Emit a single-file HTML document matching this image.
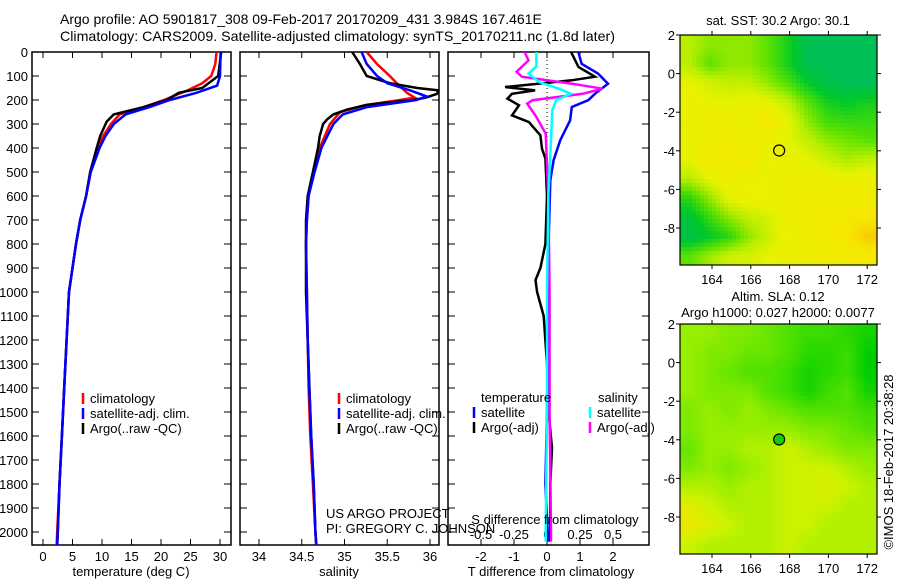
<!DOCTYPE html>
<html><head><meta charset="utf-8"><style>
html,body{margin:0;padding:0;background:#fff;}
svg{display:block;font-family:"Liberation Sans",sans-serif;}
text{font-size:13px;fill:#000;}
</style></head><body>
<svg id="chart" width="900" height="580" viewBox="0 0 900 580">
<text x="60" y="24" style="font-size:14px">Argo profile: AO 5901817_308 09-Feb-2017 20170209_431 3.984S 167.461E</text>
<text x="60" y="41" style="font-size:14px" textLength="555" lengthAdjust="spacingAndGlyphs">Climatology: CARS2009. Satellite-adjusted climatology: synTS_20170211.nc (1.8d later)</text>
<g id="g"></g>
</svg>
<script>
// ---- data ----
const tDepth=[0,100,150,170,200,230,260,290,350,400,500,600,700,800,900,1000,1200,1400,1600,1800,2000,2055];
const tArgo=[30.2,29.7,27,23,21,17,12,10.8,9.7,9.1,8,7.3,6.3,5.6,5.0,4.4,4.0,3.6,3.2,2.8,2.5,2.4];
const tClimDepth=[0,50,100,130,160,200,230,260,300,350,400,500,600,700,800,900,1000,1200,1400,1600,1800,2000,2055];
const tClim=[29.4,29.2,28.5,27,24.5,20.5,17,13,11.5,10.2,9.3,8,7.3,6.3,5.6,5.0,4.4,4.0,3.6,3.2,2.8,2.4,2.3];
const tSat=[30.1,30.05,30,29.5,26,21.5,18,14,12,10.6,9.6,8.1,7.3,6.3,5.6,5.0,4.4,4.0,3.6,3.2,2.8,2.5,2.4];
const tSatDepth=[0,50,100,140,170,200,230,260,300,350,400,500,600,700,800,900,1000,1200,1400,1600,1800,2000,2055];
const sDepth=[0,50,100,130,150,160,175,190,200,220,240,260,280,300,350,400,500,600,700,800,1000,1200,1400,1600,1800,2000,2055];
const sArgo=[35.09,35.18,35.26,35.53,35.85,36.1,36.08,35.95,35.8,35.26,35.03,34.87,34.8,34.75,34.71,34.69,34.63,34.57,34.55,34.55,34.55,34.57,34.59,34.61,34.64,34.66,34.67];
const sClimDepth=[0,50,100,130,170,190,200,220,250,300,400,500,600,700,800,1000,1200,1400,1600,1800,2000,2055];
const sClim=[35.26,35.38,35.53,35.61,35.73,35.82,35.65,35.26,34.95,34.83,34.71,34.64,34.58,34.56,34.55,34.56,34.57,34.58,34.6,34.63,34.66,34.67];
const sSatDepth=[0,50,100,130,160,185,200,230,260,300,400,500,600,700,800,1000,1200,1400,1600,1800,2000,2055];
const sSat=[35.2,35.26,35.38,35.5,35.77,35.96,35.84,35.26,34.98,34.87,34.73,34.65,34.58,34.56,34.55,34.56,34.57,34.59,34.61,34.64,34.66,34.67];
const dTDepth=[0,62,103,118,132,146,160,174,194,222,264,292,347,403,444,600,800,900,950,1000,1050,1100,1300,1500,1650,1800,2000,2040];
const dTArgo=[0.73,0.95,1.45,0.75,-0.27,-1.27,-0.36,-1.06,-1.2,-0.85,-1.06,-0.55,-0.2,-0.15,-0.05,0,-0.05,-0.2,-0.35,-0.3,-0.2,-0.1,0,0.05,0.15,0.1,0.1,0.05];
const dTSDepth=[0,49,90,132,174,201,229,285,368,451,535,800,1200,1500,1800,2000,2040];
const dTSat=[0.95,1.05,1.55,1.85,1.45,1.25,0.75,0.7,0.4,0.2,0.1,0.05,0.03,0.0,-0.05,0.02,0.02];
const dSDepth=[0,35,83,103,132,153,174,201,215,271,340,600,1000,1500,2000,2040];
const dSArgo=[-0.17,-0.14,-0.23,-0.19,0.19,0.42,0.27,-0.11,-0.15,-0.08,-0.01,0.01,0.02,0.02,0.03,0.03];
const dSSDepth=[0,60,90,125,153,174,201,243,368,600,1000,1500,2000,2040];
const dSSat=[-0.08,-0.08,-0.14,-0.06,0.09,0.18,0.07,0.04,0.03,0.01,0,0,-0.01,-0.01];
const sstField=[
[.55,.52,.52,.52,.48,.42,.35,.35,.35,.35],
[.55,.48,.52,.52,.48,.42,.35,.35,.35,.35],
[.6,.58,.56,.56,.52,.47,.4,.36,.35,.35],
[.62,.6,.6,.62,.6,.56,.48,.42,.4,.42],
[.62,.63,.63,.62,.66,.6,.52,.46,.45,.45],
[.6,.63,.65,.63,.62,.6,.56,.52,.5,.48],
[.6,.65,.65,.65,.6,.62,.6,.57,.54,.56],
[.55,.6,.63,.62,.62,.63,.63,.62,.62,.62],
[.44,.52,.6,.62,.62,.63,.63,.64,.64,.64],
[.38,.45,.52,.56,.58,.62,.64,.65,.66,.66],
[.36,.4,.44,.52,.57,.62,.63,.65,.66,.7],
[.48,.53,.57,.58,.6,.62,.63,.64,.65,.65]];
const slaField=[
[.5,.5,.45,.45,.4,.35,.3,.3,.25,.2],
[.5,.45,.45,.4,.4,.35,.25,.25,.3,.15],
[.5,.45,.4,.35,.35,.3,.2,.25,.3,.15],
[.5,.45,.45,.45,.35,.3,.2,.3,.35,.2],
[.45,.5,.45,.5,.45,.4,.35,.35,.35,.3],
[.45,.5,.5,.5,.5,.5,.45,.45,.4,.35],
[.4,.5,.5,.55,.55,.6,.55,.5,.45,.45],
[.45,.5,.45,.5,.55,.6,.6,.6,.55,.5],
[.55,.55,.5,.55,.55,.6,.6,.65,.6,.55],
[.65,.6,.55,.55,.55,.6,.6,.6,.55,.55],
[.7,.65,.6,.55,.55,.6,.6,.55,.55,.55],
[.6,.55,.55,.55,.55,.6,.55,.55,.55,.55]];
const depthTicks=[0,100,200,300,400,500,600,700,800,900,1000,1100,1200,1300,1400,1500,1600,1700,1800,1900,2000];
const tTicks=[0,5,10,15,20,25,30];
const sTicks=[34,34.5,35,35.5,36];
const dTTicks=[-2,-1,0,1,2];
const dSTicks=[-0.5,-0.25,0,0.25,0.5];
const latTicks=[2,0,-2,-4,-6,-8];
const lonTicks=[164,166,168,170,172];
const argoLon=167.461, argoLat=-3.984;

// ---- helpers ----
const NS='http://www.w3.org/2000/svg';
const G=document.getElementById('g');
function el(tag,attrs,parent){const e=document.createElementNS(NS,tag);for(const k in attrs)e.setAttribute(k,attrs[k]);(parent||G).appendChild(e);return e;}
function txt(x,y,s,anchor,parent,size){const t=el('text',{x:x,y:y,'text-anchor':anchor||'start'},parent);if(size)t.style.fontSize=size+'px';t.textContent=s;return t;}
const yD=d=>52+d*0.24;
const PB=545;
const xT=v=>43+v*5.9;
const xS=v=>259+(v-34)*85.5;
const xDT=v=>547+v*33;
const xDS=v=>547+v*132;

function panel(x0,x1,name){
  const g=el('g',{});
  
  
  el('rect',{x:x0,y:52,width:x1-x0,height:PB-52,fill:'none',stroke:'#000','stroke-width':1.5},g);
  depthTicks.forEach(d=>{el('line',{x1:x0,x2:x0+7,y1:yD(d),y2:yD(d),stroke:'#000'},g);el('line',{x1:x1-7,x2:x1,y1:yD(d),y2:yD(d),stroke:'#000'},g);});
  return g;
}
function line(xs,ds,fx,color,name,w){
  const p=xs.map((v,i)=>fx(v).toFixed(1)+','+yD(ds[i]).toFixed(1)).join(' ');
  const e=el('polyline',{points:p,fill:'none',stroke:color,'stroke-width':w||2.5});
  
  
  return e;
}
function legend(x,y,items,g){
  items.forEach((it,i)=>{
    el('line',{x1:x,x2:x,y1:y+i*15-10,y2:y+i*15+1,stroke:it[1],'stroke-width':2.5},g);
    const t=txt(x+7,y+i*15,it[0],'start',g);
    
    
  });
}

depthTicks.forEach(d=>{const t=txt(28,yD(d)+5,String(d),'end');});

const clipDefs=el('defs',{});
[[1,32,231],[2,240,439],[3,448,649]].forEach(c=>{const cp=el('clipPath',{id:'c'+c[0]},clipDefs);el('rect',{x:c[1],y:52,width:c[2]-c[1],height:PB-52},cp);});

// panel 1
const p1=panel(32,231,'temperature-panel');
tTicks.forEach(v=>{el('line',{x1:xT(v),x2:xT(v),y1:52,y2:58,stroke:'#000'},p1);el('line',{x1:xT(v),x2:xT(v),y1:PB-6,y2:PB,stroke:'#000'},p1);txt(xT(v),561,String(v),'middle',p1);});
const l1=el('g',{'clip-path':'url(#c1)'},p1);
l1.appendChild(line(tClim,tClimDepth,xT,'#f00','temp-climatology-line'));
l1.appendChild(line(tArgo,tDepth,xT,'#000','temp-argo-line'));
l1.appendChild(line(tSat,tSatDepth,xT,'#00f','temp-satellite-line'));
txt(131,576,'temperature (deg C)','middle',p1);
legend(83,403,[['climatology','#f00'],['satellite-adj. clim.','#00f'],['Argo(..raw -QC)','#000']],p1);

// panel 2
const p2=panel(240,439,'salinity-panel');
sTicks.forEach(v=>{el('line',{x1:xS(v),x2:xS(v),y1:52,y2:58,stroke:'#000'},p2);el('line',{x1:xS(v),x2:xS(v),y1:PB-6,y2:PB,stroke:'#000'},p2);txt(xS(v),561,String(v),'middle',p2);});
const l2=el('g',{'clip-path':'url(#c2)'},p2);
l2.appendChild(line(sClim,sClimDepth,xS,'#f00','sal-climatology-line'));
l2.appendChild(line(sArgo,sDepth,xS,'#000','sal-argo-line'));
l2.appendChild(line(sSat,sSatDepth,xS,'#00f','sal-satellite-line'));
txt(339,576,'salinity','middle',p2);
legend(339,403,[['climatology','#f00'],['satellite-adj. clim.','#00f'],['Argo(..raw -QC)','#000']],p2);

// panel 3
const p3=panel(448,649,'difference-panel');
dTTicks.forEach(v=>{el('line',{x1:xDT(v),x2:xDT(v),y1:52,y2:58,stroke:'#000'},p3);el('line',{x1:xDT(v),x2:xDT(v),y1:PB-6,y2:PB,stroke:'#000'},p3);txt(xDT(v),561,String(v),'middle',p3);});
dSTicks.forEach(v=>{txt(xDS(v),539,String(v),'middle',p3);});
el('line',{x1:547,x2:547,y1:52,y2:PB,stroke:'#000','stroke-dasharray':'1,3'},p3);
const l3=el('g',{'clip-path':'url(#c3)'},p3);
l3.appendChild(line(dTArgo,dTDepth,xDT,'#000','dT-argo-line'));
l3.appendChild(line(dTSat,dTSDepth,xDT,'#00f','dT-satellite-line'));
l3.appendChild(line(dSArgo,dSDepth,xDS,'#f0f','dS-argo-line'));
l3.appendChild(line(dSSat,dSSDepth,xDS,'#0ff','dS-satellite-line'));
txt(555,524,'S difference from climatology','middle',p3);
txt(551,576,'T difference from climatology','middle',p3);
txt(481,402,'temperature','start',p3);
txt(598,402,'salinity','start',p3);
legend(474,417,[['satellite','#00f'],['Argo(-adj)','#000']],p3);
legend(590,417,[['satellite','#0ff'],['Argo(-adj)','#f0f']],p3);
txt(326,518,'US ARGO PROJECT','start');
txt(326,533,'PI: GREGORY C. JOHNSON','start');

// ---- maps ----
function lerpColor(stops,v){
  for(let i=0;i<stops.length-1;i++){const a=stops[i],b=stops[i+1];if(v<=b[0]||i==stops.length-2){const t=Math.max(0,Math.min(1,(v-a[0])/(b[0]-a[0])));return 'rgb('+[1,2,3].map(k=>Math.round(a[k]+(b[k]-a[k])*t)).join(',')+')';}}
}
const cmapSST=[[0.25,0,60,220],[0.32,0,185,110],[0.4,0,200,40],[0.48,90,225,0],[0.55,185,238,0],[0.6,230,242,0],[0.66,245,232,0],[0.75,255,170,0],[0.9,200,0,0]];
const cmapSLA=[[0.15,0,205,0],[0.35,80,225,0],[0.5,150,238,0],[0.6,205,242,0],[0.7,235,232,0]];
function map(y0,field,cmap,name){
  const g=el('g',{});
  
  
  const x0=680,x1=877,y1=y0+230;
  const lonX=l=>712+(l-164)*19.4, latY=l=>y0+(2-l)*19.3;
  const rows=field.length, cols=field[0].length;
  const cell=4;
  for(let py=y0;py<y1;py+=cell){
    for(let px=x0;px<x1;px+=cell){
      const fx=(px+cell/2-x0)/(x1-x0)*cols-0.5, fy=(py+cell/2-y0)/(y1-y0)*rows-0.5;
      const i0=Math.max(0,Math.min(rows-1,Math.floor(fy))),i1=Math.min(rows-1,i0+1),j0=Math.max(0,Math.min(cols-1,Math.floor(fx))),j1=Math.min(cols-1,j0+1);
      const ty=Math.max(0,Math.min(1,fy-i0)),tx=Math.max(0,Math.min(1,fx-j0));
      const v=(field[i0][j0]*(1-tx)+field[i0][j1]*tx)*(1-ty)+(field[i1][j0]*(1-tx)+field[i1][j1]*tx)*ty;
      el('rect',{x:px,y:py,width:Math.min(cell,x1-px),height:Math.min(cell,y1-py),fill:lerpColor(cmap,v)},g);
    }
  }
  el('rect',{x:x0,y:y0,width:x1-x0,height:y1-y0,fill:'none',stroke:'#000','stroke-width':1.2},g);
  latTicks.forEach(l=>{el('line',{x1:x0-4,x2:x0,y1:latY(l),y2:latY(l),stroke:'#000'},g);el('line',{x1:x1,x2:x1+4,y1:latY(l),y2:latY(l),stroke:'#000'},g);txt(x0-5,latY(l)+5,String(l),'end',g,13);});
  lonTicks.forEach(l=>{el('line',{x1:lonX(l),x2:lonX(l),y1:y0-4,y2:y0,stroke:'#000'},g);el('line',{x1:lonX(l),x2:lonX(l),y1:y1,y2:y1+4,stroke:'#000'},g);txt(lonX(l),y1+19,String(l),'middle',g,13);});
  return {g,lonX,latY};
}
const m1=map(35,sstField,cmapSST,'sst-map');
el('circle',{cx:m1.lonX(argoLon),cy:m1.latY(argoLat),r:5.5,fill:'none',stroke:'#000','stroke-width':1.2},m1.g);
txt(778,25,'sat. SST: 30.2 Argo: 30.1','middle',m1.g);
const m2=map(324,slaField,cmapSLA,'sla-map');
el('circle',{cx:m2.lonX(argoLon),cy:m2.latY(argoLat),r:5.5,fill:'#11cc11',stroke:'#000','stroke-width':1.2},m2.g);
txt(778,301,'Altim. SLA: 0.12','middle',m2.g);
txt(778,317,'Argo h1000: 0.027 h2000: 0.0077','middle',m2.g);
const cr=txt(0,0,'©IMOS 18-Feb-2017 20:38:28','middle');
cr.setAttribute('transform','translate(893,462) rotate(-90)');


</script>
</body></html>
